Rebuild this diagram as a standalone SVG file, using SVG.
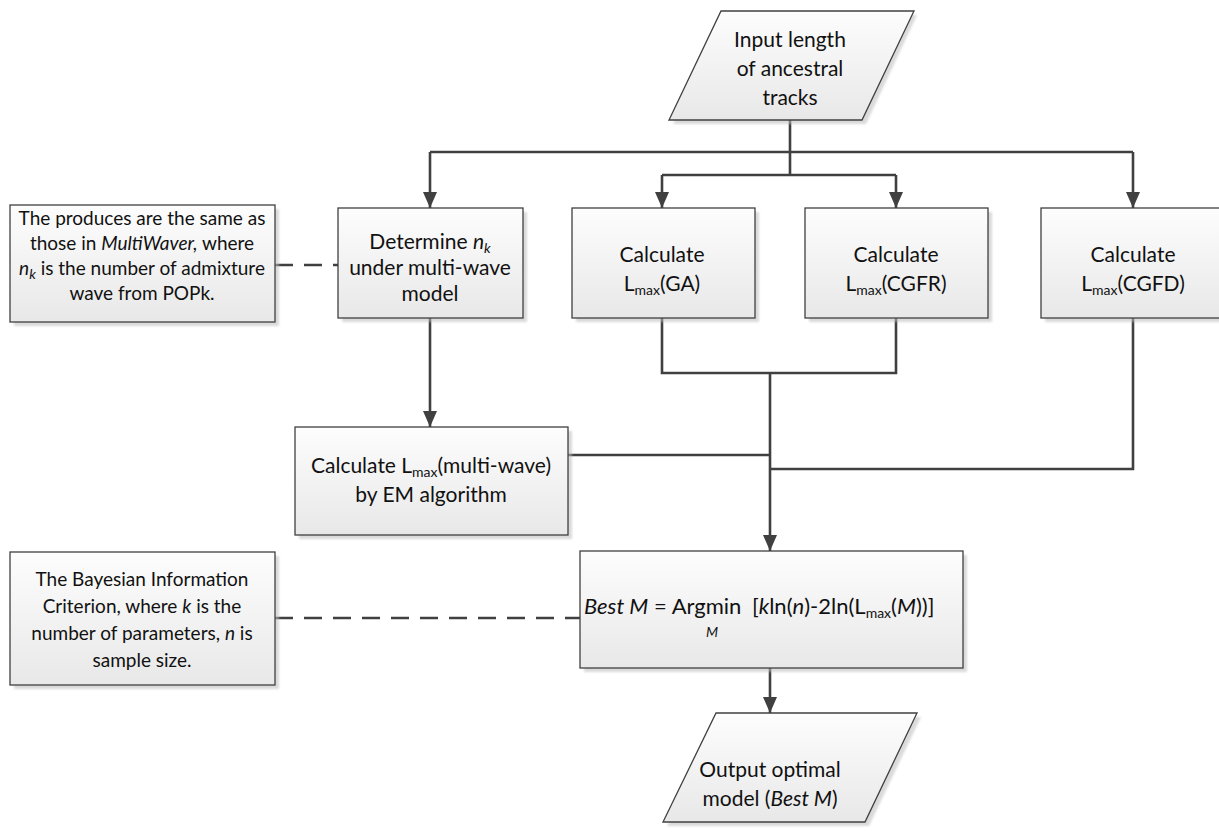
<svg xmlns="http://www.w3.org/2000/svg" width="1219" height="833" viewBox="0 0 1219 833">
<style>
.box{fill:url(#g);stroke:#404040;stroke-width:1.3}
.sh{fill:#bdbdbd;opacity:0.55;filter:url(#blur)}
.t{font-family:Lato,"Liberation Sans",sans-serif;font-size:21px;fill:#111;text-anchor:middle}
.n{font-family:Lato,"Liberation Sans",sans-serif;font-size:19px;fill:#111;text-anchor:middle}
.f{font-family:Lato,"Liberation Sans",sans-serif;font-size:22px;fill:#111}
.c{fill:none;stroke:#404040;stroke-width:2.6}
.d{fill:none;stroke:#404040;stroke-width:2.6;stroke-dasharray:18,11}
.i{font-style:italic}
.s{font-size:14px}
</style>
<defs>
<linearGradient id="g" x1="0" y1="0" x2="0" y2="1">
<stop offset="0" stop-color="#fdfdfd"/>
<stop offset="1" stop-color="#e8e8e8"/>
</linearGradient>
<filter id="blur" x="-10%" y="-10%" width="120%" height="120%"><feGaussianBlur stdDeviation="1.2"/></filter>
<marker id="a" markerUnits="userSpaceOnUse" markerWidth="16" markerHeight="18" refX="16" refY="7" orient="auto">
<path d="M0,0 L16,7 L0,14 Z" fill="#404040"/>
</marker>
</defs>

<g id="connectors">
<path class="c" d="M790,120 V152"/>
<path class="c" d="M430,152 H1133"/>
<path class="c" d="M430,152 V208" marker-end="url(#a)"/>
<path class="c" d="M1133,152 V208" marker-end="url(#a)"/>
<path class="c" d="M790,152 V175 M662,175 H896"/>
<path class="c" d="M662,175 V208" marker-end="url(#a)"/>
<path class="c" d="M896,175 V208" marker-end="url(#a)"/>
<path class="c" d="M430,318 V427" marker-end="url(#a)"/>
<path class="c" d="M662,318 V373 H896 V318"/>
<path class="c" d="M770,373 V551" marker-end="url(#a)"/>
<path class="c" d="M1133,318 V469 H770"/>
<path class="c" d="M568,455 H770"/>
<path class="c" d="M770,668 V713" marker-end="url(#a)"/>
<path class="d" d="M275,265 H338"/>
<path class="d" d="M275,618 H580"/>
</g>

<g id="input">
<path class="sh" d="M724,15 H917 L866,124 H673 Z"/>
<path class="box" d="M721,11 H914 L862,120 H669 Z"/>
<text class="t" x="790" y="47">Input length</text>
<text class="t" x="790" y="76">of ancestral</text>
<text class="t" x="790" y="105">tracks</text>
</g>

<g id="note1">
<rect class="sh" x="14" y="209" width="265" height="117"/>
<rect class="box" x="10" y="205" width="265" height="117"/>
<text class="n" x="142" y="225">The produces are the same as</text>
<text class="n" x="142" y="250">those in <tspan class="i">MultiWaver,</tspan> where</text>
<text class="n" x="142" y="275"><tspan class="i">n</tspan><tspan class="i s" dy="4">k</tspan><tspan dy="-4"> is the number of admixture</tspan></text>
<text class="n" x="142" y="300">wave from POPk.</text>
</g>

<g id="determine">
<rect class="sh" x="342" y="212" width="185" height="110"/>
<rect class="box" x="338" y="208" width="185" height="110"/>
<text class="t" x="430" y="249">Determine <tspan class="i">n</tspan><tspan class="i s" dy="4">k</tspan></text>
<text class="t" x="430" y="275">under multi-wave</text>
<text class="t" x="430" y="301">model</text>
</g>

<g id="ga">
<rect class="sh" x="576" y="212" width="183" height="110"/>
<rect class="box" x="572" y="208" width="183" height="110"/>
<text class="t" x="662" y="262">Calculate</text>
<text class="t" x="662" y="291">L<tspan class="s" dy="4">max</tspan><tspan dy="-4">(GA)</tspan></text>
</g>

<g id="cgfr">
<rect class="sh" x="809" y="212" width="183" height="110"/>
<rect class="box" x="805" y="208" width="183" height="110"/>
<text class="t" x="896" y="262">Calculate</text>
<text class="t" x="896" y="291">L<tspan class="s" dy="4">max</tspan><tspan dy="-4">(CGFR)</tspan></text>
</g>

<g id="cgfd">
<rect class="sh" x="1045" y="212" width="183" height="110"/>
<rect class="box" x="1041" y="208" width="183" height="110"/>
<text class="t" x="1133" y="262">Calculate</text>
<text class="t" x="1133" y="291">L<tspan class="s" dy="4">max</tspan><tspan dy="-4">(CGFD)</tspan></text>
</g>

<g id="em">
<rect class="sh" x="299" y="431" width="273" height="108"/>
<rect class="box" x="295" y="427" width="273" height="108"/>
<text class="t" x="431" y="473">Calculate L<tspan class="s" dy="4">max</tspan><tspan dy="-4">(multi-wave)</tspan></text>
<text class="t" x="431" y="502">by EM algorithm</text>
</g>

<g id="best">
<rect class="sh" x="584" y="555" width="383" height="117"/>
<rect class="box" x="580" y="551" width="383" height="117"/>
<text class="f" x="584" y="614"><tspan class="i">Best M</tspan> = Argmin</text>
<text class="f" x="752" y="614">[<tspan class="i">k</tspan>ln(<tspan class="i">n</tspan>)-2ln(L<tspan class="s" dy="4">max</tspan><tspan dy="-4">(</tspan><tspan class="i">M</tspan>))]</text>
<text class="f i s" x="712" y="637" text-anchor="middle">M</text>
</g>

<g id="note2">
<rect class="sh" x="14" y="556" width="265" height="133"/>
<rect class="box" x="10" y="552" width="265" height="133"/>
<text class="n" x="142" y="586">The Bayesian Information</text>
<text class="n" x="142" y="613">Criterion, where <tspan class="i">k</tspan> is the</text>
<text class="n" x="142" y="640">number of parameters, <tspan class="i">n</tspan> is</text>
<text class="n" x="142" y="667">sample size.</text>
</g>

<g id="output">
<path class="sh" d="M719,717 H921 L869,826 H667 Z"/>
<path class="box" d="M716,713 H917 L865,822 H663 Z"/>
<text class="t" x="770" y="777">Output optimal</text>
<text class="t" x="770" y="806">model (<tspan class="i">Best M</tspan>)</text>
</g>
</svg>
